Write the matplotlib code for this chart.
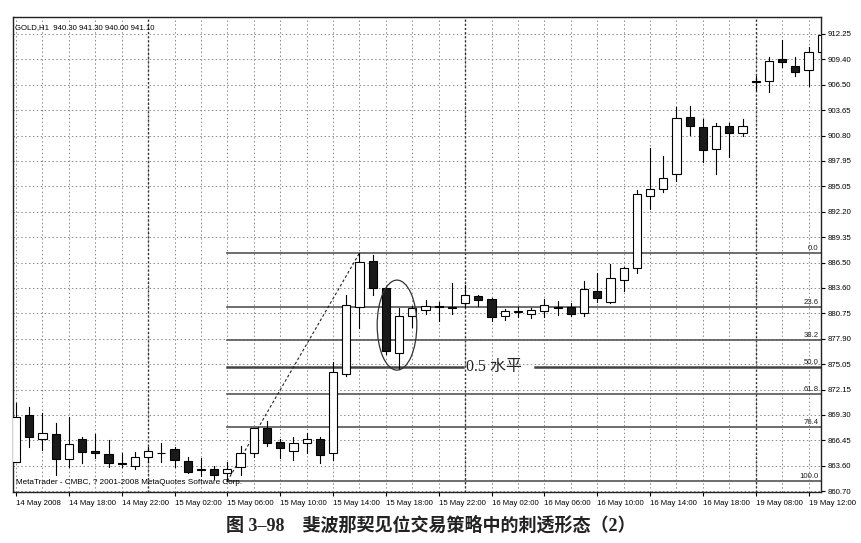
import numpy as np
import matplotlib.pyplot as plt
from matplotlib.patches import Rectangle, Ellipse

# GOLD H1 bars (O, H, L, C)
opens = [864.00, 869.27, 866.60, 867.13, 864.28, 866.60, 865.21, 864.87, 863.90, 863.52,
         864.57, 864.95, 865.40, 864.12, 863.18, 863.15, 862.70, 863.44, 864.95, 867.77,
         866.26, 865.25, 866.15, 866.53, 864.95, 873.86, 881.49, 886.68, 883.65, 876.30,
         880.44, 881.12, 881.55, 881.35, 881.94, 882.70, 882.32, 880.47, 880.95, 880.67,
         881.00, 881.45, 881.49, 880.74, 883.29, 882.05, 884.50, 885.82, 893.98, 894.77,
         896.46, 902.85, 901.79, 899.24, 901.91, 901.12, 906.85, 906.98, 909.43, 908.67,
         908.19, 910.25]
highs = [870.60, 870.14, 869.47, 868.40, 869.08, 866.83, 867.13, 866.45, 865.02, 865.13,
         865.63, 866.15, 865.63, 864.57, 864.39, 863.52, 864.00, 865.78, 867.84, 868.60,
         866.53, 866.76, 867.28, 866.83, 875.29, 882.81, 887.55, 887.32, 883.74, 881.31,
         881.57, 882.25, 882.05, 884.13, 883.94, 882.81, 882.44, 881.20, 881.42, 881.31,
         882.32, 882.17, 881.94, 884.42, 885.26, 886.27, 886.00, 894.65, 899.36, 898.49,
         903.98, 904.13, 902.63, 902.18, 902.18, 902.63, 907.51, 909.62, 911.57, 909.62,
         910.82, 913.83]
lows = [863.95, 865.63, 865.32, 862.51, 863.44, 863.89, 864.39, 863.37, 863.37, 863.15,
        864.00, 864.00, 863.44, 862.70, 862.39, 862.02, 861.83, 862.51, 864.50, 865.78,
        864.39, 864.20, 865.02, 863.89, 864.20, 873.67, 879.05, 882.81, 876.15, 874.43,
        879.23, 880.67, 879.91, 880.67, 881.49, 881.57, 879.91, 879.99, 880.29, 880.18,
        880.29, 880.55, 880.44, 880.44, 882.05, 881.94, 883.29, 885.26, 892.48, 894.46,
        895.70, 900.86, 897.85, 896.42, 898.34, 900.74, 905.93, 905.74, 908.56, 907.51,
        906.38, 910.07]
closes = [869.08, 866.76, 867.28, 864.31, 866.00, 865.07, 864.95, 863.82, 863.80, 864.50,
          865.18, 865.05, 864.20, 862.88, 863.07, 862.47, 863.15, 865.02, 867.77, 866.08,
          865.58, 866.08, 866.60, 864.76, 874.16, 881.68, 886.57, 883.56, 876.55, 880.47,
          881.31, 881.57, 881.45, 881.45, 882.78, 882.25, 880.36, 881.00, 881.00, 881.12,
          881.68, 881.40, 880.67, 883.45, 882.44, 884.69, 885.89, 894.20, 894.73, 895.97,
          902.74, 901.87, 899.17, 901.87, 901.12, 901.91, 906.90, 909.24, 909.13, 907.98,
          910.25, 912.14]

time_labels = ["14 May 2008", "14 May 18:00", "14 May 22:00", "15 May 02:00",
               "15 May 06:00", "15 May 10:00", "15 May 14:00", "15 May 18:00",
               "15 May 22:00", "16 May 02:00", "16 May 06:00", "16 May 10:00",
               "16 May 14:00", "16 May 18:00", "19 May 08:00", "19 May 12:00"]
price_labels = ["860.70", "863.60", "866.45", "869.30", "872.15", "875.05", "877.90",
                "880.75", "883.60", "886.50", "889.35", "892.20", "895.05", "897.95",
                "900.80", "903.65", "906.50", "909.40", "912.25"]
day_breaks = [10, 34, 56]

fib_levels = [0.0, 23.6, 38.2, 50.0, 61.8, 76.4, 100.0]
fib_high, fib_low = 887.55, 861.83
fib_start, fib_top_bar = 16, 26

font = "Liberation Sans"
small = 5.6

fig = plt.figure(figsize=(8.61, 5.43), dpi=100)
ax = fig.add_axes([13 / 861, 1 - 492 / 543, 808 / 861, (492 - 16.7) / 543])

x = np.arange(len(opens))
xmin, xmax = -0.23, 60.94
ymin, ymax = 860.6, 914.2
ax.set_xlim(xmin, xmax)
ax.set_ylim(ymin, ymax)

# grid
ypos = np.linspace(860.70, 912.25, len(price_labels))
for yv in ypos:
    ax.axhline(yv, color="#8a8a8a", lw=0.7, ls=(0, (1.5, 2.5)), zorder=1)
for xv in range(0, 62, 2):
    ax.axvline(xv, color="#8a8a8a", lw=0.7, ls=(0, (1.5, 2.5)), zorder=1)
for xv in day_breaks:
    ax.axvline(xv, color="#333333", lw=1.0, ls=(0, (1.5, 1.5)), zorder=1)

# fibonacci levels
rng = fib_high - fib_low
for lev in fib_levels:
    yv = fib_high - rng * lev / 100
    if lev == 50.0:
        ax.plot([fib_start, 33.8], [yv, yv], color="#444444", lw=1.8, zorder=2)
        ax.plot([39.3, xmax], [yv, yv], color="#444444", lw=1.8, zorder=2)
    else:
        ax.plot([fib_start, xmax], [yv, yv], color="#555555", lw=1.2, zorder=2)
    ax.text(60.75, yv + 0.15, f"{lev:.1f}", ha="right", va="bottom",
            fontsize=small, family=font, color="#222222", zorder=5)
ax.plot([fib_start, fib_top_bar], [fib_low, fib_high], color="#222222", lw=0.8,
        ls=(0, (2.5, 2)), zorder=2)

# candles
w = 0.62
for i in x:
    o, h, l, c = opens[i], highs[i], lows[i], closes[i]
    ax.plot([i, i], [l, h], color="black", lw=0.8, zorder=3)
    up = c >= o
    bottom = min(o, c)
    height = max(abs(c - o), 0.05)
    ax.add_patch(Rectangle((i - w / 2, bottom), w, height,
                           facecolor="white" if up else "#1a1a1a",
                           edgecolor="black", lw=0.8, zorder=4))

# annotation
ax.add_patch(Ellipse((28.84, 879.42), 3.0, 10.15, fill=False, edgecolor="#333333",
                     lw=0.9, zorder=5))
ax.text(34.1, 874.72, "0.5 水平", ha="left", va="center", fontsize=11.5,
        family=["Liberation Serif", "Noto Sans CJK SC"], color="#222222", zorder=6)

# header / footer inside chart
ax.text(0.003, 0.985, "GOLD,H1  940.30 941.30 940.00 941.10", transform=ax.transAxes,
        ha="left", va="top", fontsize=small, family=font)
ax.text(0.004, 0.012, "MetaTrader - CMBC, ? 2001-2008 MetaQuotes Software Corp.",
        transform=ax.transAxes, ha="left", va="bottom", fontsize=small + 0.3, family=font)

# axes
ax.yaxis.tick_right()
ax.set_yticks(ypos)
ax.set_yticklabels(price_labels, fontsize=small, family=font)
ax.set_xticks(np.arange(0, 61, 4))
ax.set_xticklabels(time_labels, fontsize=small, family=font, ha="left")
ax.tick_params(axis="both", length=3, width=0.8, pad=2, direction="out")
ax.tick_params(axis="x", pad=3)
for s in ax.spines.values():
    s.set_linewidth(1.0)
    s.set_color("#222222")

fig.text(0.5, 1 - 525 / 543, "图 3–98    斐波那契见位交易策略中的刺透形态（2）",
         ha="center", va="center", fontsize=13, fontweight="bold",
         family=["Liberation Serif", "Noto Sans CJK SC"], color="#222222")

fig.savefig("out.png", dpi=100)
